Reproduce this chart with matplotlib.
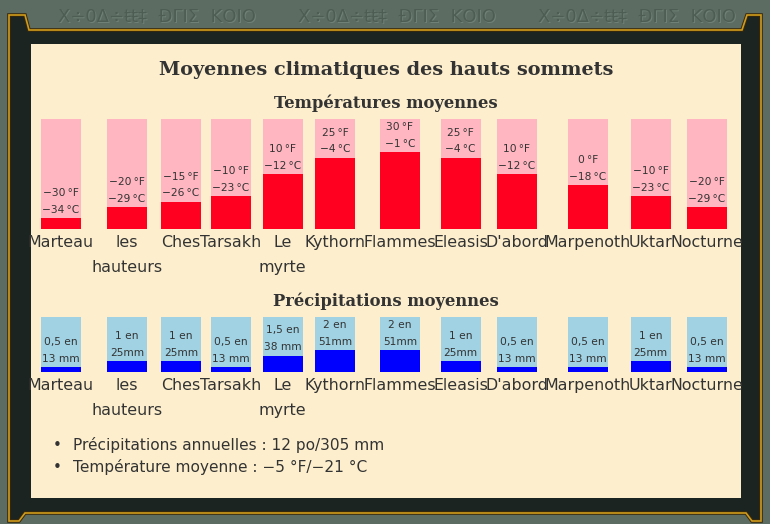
import matplotlib
matplotlib.use("Agg")
import matplotlib.pyplot as plt
from matplotlib.patches import Polygon, Rectangle

# ---------------- data ----------------
months = ["Marteau", "les hauteurs", "Ches", "Tarsakh", "Le myrte", "Kythorn",
          "Flammes", "Eleasis", "D'abord", "Marpenoth", "Uktar", "Nocturne"]
temp_f = [-30, -20, -15, -10, 10, 25, 30, 25, 10, 0, -10, -20]
temp_c = [-34, -29, -26, -23, -12, -4, -1, -4, -12, -18, -23, -29]
precip_in = [0.5, 1, 1, 0.5, 1.5, 2, 2, 1, 0.5, 0.5, 1, 0.5]
precip_in_txt = ["0,5", "1", "1", "0,5", "1,5", "2", "2", "1", "0,5", "0,5", "1", "0,5"]
precip_mm_txt = ["13 mm", "25mm", "25mm", "13 mm", "38 mm", "51mm",
                 "51mm", "25mm", "13 mm", "13 mm", "25mm", "13 mm"]
temp_range = (-40, 60)      # °F scale of the temperature bars
precip_range = (0, 5)       # inch scale of the precipitation bars
title = "Moyennes climatiques des hauts sommets"
temp_title = "Températures moyennes"
precip_title = "Précipitations moyennes"
summary = ["Précipitations annuelles : 12 po/305 mm",
           "Température moyenne : \u22125 °F/\u221221 °C"]

# ---------------- layout / style ----------------
W, H = 770, 524
bar_x = [61, 127, 181, 230.5, 282.5, 335, 400, 460.5, 516.5, 588, 650.5, 707]
bar_w = 40
C_FRAME = "#5c6c63"
C_DARK = "#1b2421"
C_GOLD = "#d09c1e"
C_CREAM = "#fdefcd"
C_TXT = "#333333"
C_PINK = "#ffb6c1"
C_RED = "#ff0020"
C_LBLUE = "#a0d2e3"
C_BLUE = "#0000ff"

fig = plt.figure(figsize=(W / 100, H / 100), dpi=100)
fig.patch.set_facecolor(C_FRAME)

bg = fig.add_axes([0, 0, 1, 1])
bg.set_xlim(0, W)
bg.set_ylim(H, 0)
bg.axis("off")

# frame
dark_pts = [(9, 15), (25, 15), (29, 30), (742, 30), (747, 15), (761, 15),
            (761, 521), (752, 521), (746, 513), (25, 513), (19, 521), (9, 521)]
bg.add_patch(Polygon(dark_pts, closed=True, facecolor=C_DARK,
                     edgecolor="#3a2a0a", linewidth=2.6, zorder=1))
bg.add_patch(Polygon(dark_pts, closed=True, facecolor="none",
                     edgecolor=C_GOLD, linewidth=1.2, zorder=2))
bg.add_patch(Rectangle((31, 44), 710, 454, facecolor=C_CREAM,
                       edgecolor="none", zorder=3))

# engraved rune band
runes = "X÷0Δ÷ŧŧ‡  ÐΓΙΣ  ΚΟΙΟ"
for cx in (157, 397, 637):
    bg.text(cx + 0.8, 16.8, runes, ha="center", va="center", fontsize=13,
            color="#6f8176", family="DejaVu Sans", zorder=1)
    bg.text(cx, 16, runes, ha="center", va="center", fontsize=13,
            color="#4e5d54", family="DejaVu Sans", zorder=1)

# titles
bg.text(386, 75, title, ha="center", va="baseline", fontsize=13.9,
        fontweight="bold", family="DejaVu Serif", color=C_TXT, zorder=5)
bg.text(386, 108, temp_title, ha="center", va="baseline", fontsize=11.8,
        fontweight="bold", family="DejaVu Serif", color=C_TXT, zorder=5)
bg.text(386, 306, precip_title, ha="center", va="baseline", fontsize=11.8,
        fontweight="bold", family="DejaVu Serif", color=C_TXT, zorder=5)

# summary bullets
for i, line in enumerate(summary):
    yb = 450 + 22 * i
    bg.text(57, yb - 5, "•", ha="center", va="center", fontsize=11,
            color=C_TXT, zorder=5)
    bg.text(73, yb, line, ha="left", va="baseline", fontsize=11.1,
            family="DejaVu Sans", color=C_TXT, zorder=5)


def fmt(v):
    return str(v).replace("-", "\u2212")


def month_labels(ax, ybase):
    for x, m in zip(bar_x, months):
        for k, part in enumerate(m.split(" ")):
            ax.annotate(part, xy=(x, ybase), xytext=(0, -18 - 25 * k),
                        textcoords="offset pixels", ha="center", va="baseline",
                        fontsize=11.4, color=C_TXT, annotation_clip=False)


# temperature bars
ax_t = fig.add_axes([0, (H - 229) / H, 1, 110 / H])
ax_t.set_xlim(0, W)
ax_t.set_ylim(*temp_range)
ax_t.axis("off")
lo, hi = temp_range
ax_t.bar(bar_x, [hi - lo] * len(bar_x), bottom=lo, width=bar_w,
         color=C_PINK, linewidth=0)
ax_t.bar(bar_x, [f - lo for f in temp_f], bottom=lo, width=bar_w,
         color=C_RED, linewidth=0)
for x, f, c in zip(bar_x, temp_f, temp_c):
    ax_t.annotate(fmt(c) + "\u2009°C", xy=(x, f), xytext=(0, 5),
                  textcoords="offset pixels", ha="center", va="baseline",
                  fontsize=7.7, color=C_TXT)
    ax_t.annotate(fmt(f) + "\u2009°F", xy=(x, f), xytext=(0, 22),
                  textcoords="offset pixels", ha="center", va="baseline",
                  fontsize=7.7, color=C_TXT)
month_labels(ax_t, lo)

# precipitation bars
ax_p = fig.add_axes([0, (H - 372) / H, 1, 55 / H])
ax_p.set_xlim(0, W)
ax_p.set_ylim(*precip_range)
ax_p.axis("off")
plo, phi = precip_range
ax_p.bar(bar_x, [phi - plo] * len(bar_x), bottom=plo, width=bar_w,
         color=C_LBLUE, linewidth=0)
ax_p.bar(bar_x, precip_in, bottom=plo, width=bar_w, color=C_BLUE, linewidth=0)
for x, p, it, mt in zip(bar_x, precip_in, precip_in_txt, precip_mm_txt):
    ax_p.annotate(mt, xy=(x, p), xytext=(0, 5), textcoords="offset pixels",
                  ha="center", va="baseline", fontsize=7.7, color=C_TXT)
    ax_p.annotate(it + " en", xy=(x, p), xytext=(0, 22),
                  textcoords="offset pixels", ha="center", va="baseline",
                  fontsize=7.7, color=C_TXT)
month_labels(ax_p, plo)

fig.savefig("out.png", dpi=100, facecolor=C_FRAME)
